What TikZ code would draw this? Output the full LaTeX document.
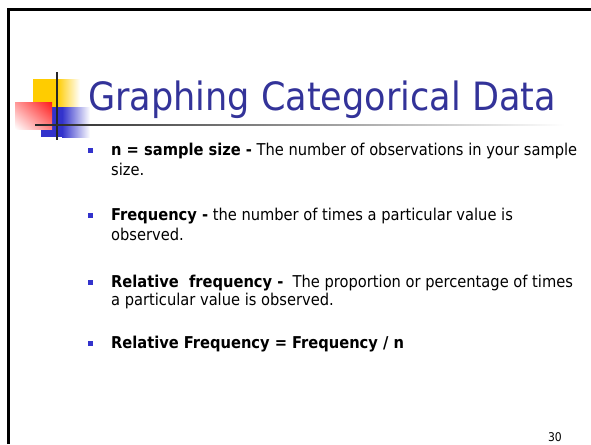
\documentclass[tikz,border=0pt]{standalone}
\usepackage{fontspec}
\setmainfont{DejaVu Sans Condensed}
\usetikzlibrary{positioning,shadings}

\definecolor{titleblue}{HTML}{333399}
\definecolor{logoyellow}{HTML}{FFCC00}
\definecolor{logoblue}{HTML}{3333CC}
\definecolor{logored}{HTML}{FF1A1A}

\tikzset{
  bullet/.style={fill=logoblue, minimum size=5pt, inner sep=0pt},
  item/.style={anchor=base west, inner sep=0pt, font=\fontsize{16.3}{20}\selectfont},
}

\begin{document}
\begin{tikzpicture}[x=1pt, y=-1pt]
        \useasboundingbox (0,0) rectangle (591,444);
        % slide frame, only top and left edges show
        \draw[line width=3pt] (8,444) -- (8,9.5) -- (591,9.5);

        % logo squares
        \fill[logoyellow] (33,79) rectangle (57,107);
        \shade[left color=logoyellow, right color=white] (57,79) rectangle (80,107);
        \fill[logoblue] (41,107) rectangle (62,137);
        \shade[left color=logoblue, right color=white] (62,107) rectangle (90,137);
        \shade[upper left=logored!45, upper right=logored, lower left=white, lower right=logored!55] (15,102) rectangle (52,129);
        \draw[line width=2.5pt, black!85] (57,72) -- (57,140);
        \shade[left color=black!85, right color=white] (35,124.2) rectangle (565,125.8);

        % title
        \node[anchor=base west, inner sep=0pt, text=titleblue, font=\fontsize{39}{42}\selectfont] (title) at (88,110) {Graphing Categorical Data};

        % items
        \node[bullet] (b1) at (90.5,150) {};
        \node[item] (size1) at (111,155) {\textbf{n = sample size -} The number of observations in your sample};
        \node[item] (size2) at (111,175) {size.};

        \node[bullet] (b2) at (90.5,215) {};
        \node[item] (freq1) at (111,220) {\textbf{Frequency -} the number of times a particular value is};
        \node[item] (freq2) at (111,240) {observed.};

        \node[bullet] (b3) at (90.5,282) {};
        \node[item] (rel1) at (111,287) {\textbf{Relative\ \ frequency -}\ \ The proportion or percentage of times};
        \node[item] (rel2) at (111,305) {a particular value is observed.};

        \node[bullet] (b4) at (90.5,343) {};
        \node[item] (formula) at (111,348) {\textbf{Relative Frequency = Frequency / n}};

        % page number
        \node[anchor=base east, inner sep=0pt, font=\fontsize{12}{13}\selectfont] (page) at (562,441) {30};
\end{tikzpicture}
\end{document}
